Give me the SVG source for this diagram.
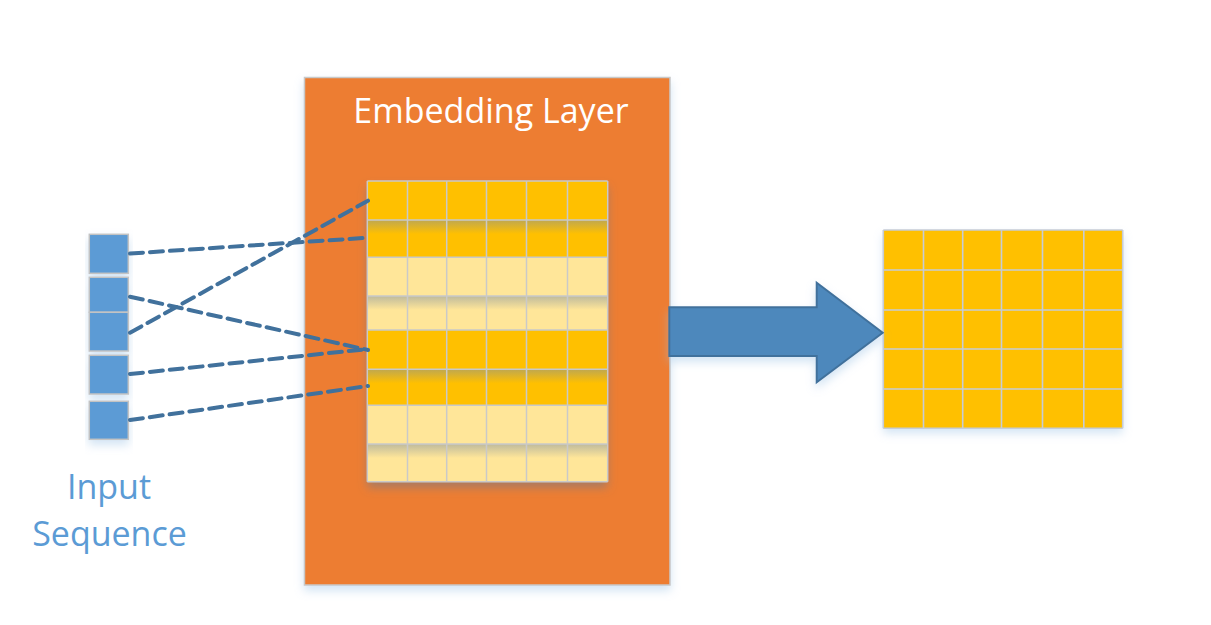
<svg xmlns="http://www.w3.org/2000/svg" width="1211" height="625" viewBox="0 0 1211 625">
<defs>
<style>
.lbl{font-family:"Open Sans","Noto Sans","DejaVu Sans",sans-serif;font-size:34px}
.dash{fill:none;stroke:#41719C;stroke-width:4;stroke-dasharray:13 7;stroke-linecap:round}
.inbox{fill:#5B9BD5;stroke:#C3C3C3;stroke-width:1.5}
.dk{fill:#FFC000}
.lt{fill:#FFE699}
.gl{fill:none;stroke:#C9C9C9;stroke-width:1.5}
</style>
<filter id="glow" x="-10%" y="-10%" width="120%" height="125%">
<feDropShadow dx="0" dy="5" stdDeviation="5" flood-color="#9DC3E6" flood-opacity="0.45"/>
</filter>
<filter id="gshadow" x="-10%" y="-10%" width="120%" height="125%">
<feDropShadow dx="0" dy="6" stdDeviation="5" flood-color="#6E7A8A" flood-opacity="0.55"/>
</filter>
<linearGradient id="rowsh" x1="0" y1="0" x2="0" y2="1">
<stop offset="0" stop-color="#7F8FA0" stop-opacity="0.5"/>
<stop offset="1" stop-color="#7F8FA0" stop-opacity="0"/>
</linearGradient>
</defs>
<rect width="1211" height="625" fill="#FFFFFF"/>

<g id="embedding-layer">
<rect x="304.5" y="77.5" width="365.5" height="507.5" fill="#ED7D31" stroke="#C8C8C8" stroke-width="1.5" filter="url(#glow)"/>
<text class="lbl" x="491" y="123" text-anchor="middle" fill="#FFFFFF">Embedding Layer</text>
<g id="embedding-matrix" filter="url(#gshadow)">
<rect class="dk" x="367.3" y="181" width="240.4" height="76.3"/>
<rect class="lt" x="367.3" y="257.3" width="240.4" height="72.7"/>
<rect class="dk" x="367.3" y="330" width="240.4" height="75.3"/>
<rect class="lt" x="367.3" y="405.3" width="240.4" height="76.4"/>
</g>
<rect x="367.3" y="220" width="240.4" height="14" fill="url(#rowsh)"/>
<rect x="367.3" y="296" width="240.4" height="14" fill="url(#rowsh)"/>
<rect x="367.3" y="369.3" width="240.4" height="14" fill="url(#rowsh)"/>
<rect x="367.3" y="444" width="240.4" height="14" fill="url(#rowsh)"/>
<path class="gl" d="M367.3 181V481.7M407.5 181V481.7M446.7 181V481.7M486.5 181V481.7M526.5 181V481.7M567.5 181V481.7M607.7 181V481.7M367.3 181H607.7M367.3 220H607.7M367.3 257.3H607.7M367.3 296H607.7M367.3 330H607.7M367.3 369.3H607.7M367.3 405.3H607.7M367.3 444H607.7M367.3 481.7H607.7"/>
</g>

<g id="input-sequence">
<g filter="url(#glow)">
<rect class="inbox" x="89.3" y="234.3" width="39" height="39"/>
<rect class="inbox" x="89.3" y="277.3" width="39" height="35"/>
<rect class="inbox" x="89.3" y="312.3" width="39" height="38.7"/>
<rect class="inbox" x="89.3" y="355.3" width="39" height="38.7"/>
<rect class="inbox" x="89.3" y="401.3" width="39" height="38"/>
</g>
<text class="lbl" x="109" y="499" text-anchor="middle" fill="#5B9BD5">Input</text>
<text class="lbl" x="109.5" y="546" text-anchor="middle" fill="#5B9BD5">Sequence</text>
</g>

<g id="output-matrix">
<rect x="883.3" y="230" width="239.4" height="198.3" fill="#FFC000" filter="url(#glow)"/>
<path fill="none" stroke="#C6CCD6" stroke-width="1.6" d="M883.3 230V428.3M923.5 230V428.3M962.7 230V428.3M1001.5 230V428.3M1042.5 230V428.3M1083.8 230V428.3M1122.7 230V428.3M883.3 230H1122.7M883.3 270H1122.7M883.3 310H1122.7M883.3 349H1122.7M883.3 389H1122.7M883.3 428.3H1122.7"/>
</g>

<g id="connectors">
<line class="dash" x1="130" y1="253.5" x2="368" y2="237.7"/>
<line class="dash" x1="130" y1="296.7" x2="368" y2="350"/>
<line class="dash" x1="130" y1="332.7" x2="368" y2="200.7"/>
<line class="dash" x1="130" y1="374" x2="368" y2="349"/>
<line class="dash" x1="130" y1="420" x2="368" y2="386"/>
<polygon points="669.3,307.3 816.7,307.3 816.7,282.7 882.7,332.7 816.7,382.3 816.7,356 669.3,356" fill="#4E88BC" stroke="#41719C" stroke-width="2" stroke-linejoin="miter" filter="url(#glow)"/>
</g>
</svg>
